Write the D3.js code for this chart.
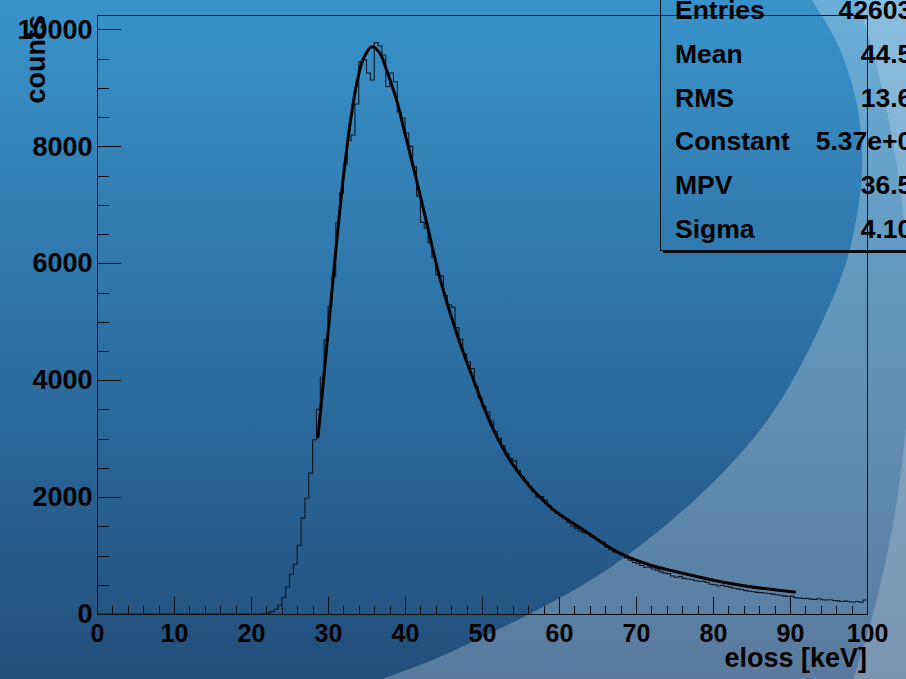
<!DOCTYPE html>
<html>
<head>
<meta charset="utf-8">
<script src="https://cdn.jsdelivr.net/npm/d3@7"></script>
<style>
  body { margin: 0; background: #2d6fa3; }
  svg { display: block; }
  text { font-family: "Liberation Sans", Arial, sans-serif; font-weight: bold; fill: #000; }
</style>
</head>
<body>
<div id="chart-area"></div>
<script>
// eloss histogram, 200 bins of 0.5 keV from 0 to 100
var binWidth = 0.5;
var counts = [
  0, 0, 0, 0, 0, 0, 0, 0, 0, 0,
  0, 0, 0, 0, 0, 0, 0, 0, 0, 0,
  0, 0, 0, 0, 0, 0, 0, 0, 0, 0,
  0, 0, 0, 0, 0, 0, 0, 0, 0, 0,
  0, 0, 0,
  5, 15, 40, 80, 150, 285, 460, 680, 850, 1175,
  1640, 1980, 2410, 2980, 3500, 4050, 4690, 5260, 5770, 6690,
  7200, 7700, 8100, 8195, 8725, 9450, 9480, 9256, 9136, 9775,
  9718, 9564, 9022, 9256, 9107, 8594, 8486, 8230, 8000, 7650,
  7150, 6700, 6600, 6350, 6100, 5800, 5780, 5450, 5290, 5250,
  4900, 4700, 4450, 4320, 4200, 3900, 3700, 3550, 3450, 3300,
  3120, 3000, 2880, 2740, 2660, 2620, 2450, 2350, 2260, 2180,
  2090, 2000, 2010, 1950, 1850, 1780, 1720, 1680, 1630, 1560,
  1500, 1470, 1420, 1390, 1380, 1330, 1290, 1250, 1230, 1140,
  1100, 1060, 1050, 1010, 960, 920, 880, 860, 830, 800,
  800, 770, 750, 720, 700, 690, 650, 630, 640, 610,
  600, 590, 570, 560, 560, 540, 510, 500, 480, 490,
  470, 460, 440, 430, 420, 400, 390, 380, 370, 365,
  360, 350, 340, 330, 320, 310, 300, 305, 280, 275,
  265, 270, 255, 250, 260, 245, 240, 245, 230, 225,
  215, 220, 210, 205, 215, 200, 240
];

// landau fit
var fitX = [28.7, 29.2, 29.8, 30.3, 30.8, 31.2, 31.6, 32.0, 32.9, 33.7, 34.6, 35.7,
            36.75, 37.6, 38.9, 40.2, 41.5, 42.8, 44.5, 46.7, 48.9, 51.5, 54.5,
            58.8, 63.2, 67.5, 71.8, 76.1, 80.5, 84.8, 90.6];
var fitY = [3030, 3700, 4530, 5230, 5930, 6470, 6990, 7480, 8420, 9050, 9500, 9706,
            9593, 9307, 8794, 8110, 7420, 6700, 5760, 4802, 4003, 3148, 2464,
            1836, 1437, 1066, 838, 696, 565, 468, 376];

var xTicks = [0, 10, 20, 30, 40, 50, 60, 70, 80, 90, 100];
var yTicks = [0, 2000, 4000, 6000, 8000, 10000];

var statNames = ["Entries", "Mean", "RMS", "Constant", "MPV", "Sigma"];
var statValues = ["426035", "44.52", "13.63", "5.37e+04", "36.51", "4.104"];

var W = 906, H = 679;
var frame = { left: 97, right: 867, top: 15, bottom: 614 };

var svg = d3.select("#chart-area")
  .append("svg")
  .attr("width", W)
  .attr("height", H);

// background: vertical gradient + two light swooshes
var defs = svg.append("defs");
var grad = defs.append("linearGradient")
  .attr("id", "bg")
  .attr("x1", 0).attr("y1", 0).attr("x2", 0).attr("y2", 1);
grad.append("stop").attr("offset", "0%").attr("stop-color", "#3893cb");
grad.append("stop").attr("offset", "100%").attr("stop-color", "#224e7b");

svg.append("rect")
  .attr("width", W).attr("height", H)
  .attr("fill", "url(#bg)");

var swoosh = [[330, 700], [383, 679], [453, 651], [621, 560], [760, 430], [832, 300],
              [852, 240], [862, 170], [857, 105], [838, 45], [812, 0], [795, -30]];
var swooshPath = d3.line().curve(d3.curveCatmullRom)(swoosh) + "L960,-30L960,720Z";
svg.append("path")
  .attr("d", swooshPath)
  .attr("fill", "#fff")
  .attr("fill-opacity", 0.25);

var c2 = { cx: -174, cy: 333, r: 1084 };
svg.append("path")
  .attr("d", "M0,0H" + W + "V" + H + "H0Z" +
    "M" + (c2.cx - c2.r) + "," + c2.cy +
    "a" + c2.r + "," + c2.r + " 0 1,0 " + (2 * c2.r) + ",0" +
    "a" + c2.r + "," + c2.r + " 0 1,0 " + (-2 * c2.r) + ",0Z")
  .attr("fill-rule", "evenodd")
  .attr("fill", "#fff")
  .attr("fill-opacity", 0.2);

var x = d3.scaleLinear()
  .domain([0, 100])
  .range([frame.left, frame.right]);

var y = d3.scaleLinear()
  .domain([0, 10248])
  .range([frame.bottom, frame.top]);

// frame
svg.append("rect")
  .attr("x", frame.left + 0.5)
  .attr("y", frame.top + 0.5)
  .attr("width", frame.right - frame.left)
  .attr("height", frame.bottom - frame.top)
  .attr("fill", "none")
  .attr("stroke", "#0b0f14")
  .attr("stroke-width", 1);

// y axis
var yMinor = d3.range(0, 10001, 500).filter(d => yTicks.indexOf(d) < 0);
svg.append("g")
  .attr("transform", `translate(${frame.left + 0.5}, 0)`)
  .call(d3.axisLeft(y).tickValues(yMinor).tickSize(-11.5).tickSizeOuter(0).tickFormat(""))
  .call(g => g.select(".domain").remove());

var yAxisGroup = svg.append("g")
  .attr("transform", `translate(${frame.left + 0.5}, 0)`)
  .call(d3.axisLeft(y).tickValues(yTicks).tickSize(-23).tickSizeOuter(0)
    .tickPadding(5).tickFormat(d3.format("d")))
  .call(g => g.select(".domain").remove())
  .attr("font-size", 27);

// x axis
var xMinor = d3.range(0, 101, 2).filter(d => d % 10 !== 0);
svg.append("g")
  .attr("transform", `translate(0, ${frame.bottom + 0.5})`)
  .call(d3.axisBottom(x).tickValues(xMinor).tickSize(-9).tickSizeOuter(0).tickFormat(""))
  .call(g => g.select(".domain").remove());

var xAxisGroup = svg.append("g")
  .attr("transform", `translate(0, ${frame.bottom + 0.5})`)
  .call(d3.axisBottom(x).tickValues(xTicks).tickSize(-18).tickSizeOuter(0)
    .tickPadding(10).tickFormat(d3.format("d")))
  .call(g => g.select(".domain").remove())
  .attr("font-size", 25);

svg.selectAll(".tick line")
  .attr("stroke", "#0b0f14")
  .attr("shape-rendering", "crispEdges");

// axis titles
svg.append("text")
  .attr("x", frame.right)
  .attr("y", 667)
  .attr("font-size", "27px")
  .attr("text-anchor", "end")
  .text("eloss [keV]");

svg.append("text")
  .attr("transform", `translate(45, ${frame.top}) rotate(-90)`)
  .attr("font-size", "27px")
  .attr("text-anchor", "end")
  .text("counts");

// histogram outline
var histPts = [[0, 0]];
counts.forEach((c, i) => histPts.push([i * binWidth, c]));
histPts.push([counts.length * binWidth, counts[counts.length - 1]]);

var histLine = d3.line()
  .x(d => x(d[0]))
  .y(d => y(d[1]))
  .curve(d3.curveStepAfter);

svg.append("path")
  .datum(histPts)
  .attr("d", histLine)
  .attr("fill", "none")
  .attr("stroke", "#0d1620")
  .attr("stroke-width", 1.1);

// fit curve
var fitLine = d3.line()
  .x((d, i) => x(fitX[i]))
  .y(d => y(d))
  .curve(d3.curveCatmullRom);

svg.append("path")
  .datum(fitY)
  .attr("d", fitLine)
  .attr("fill", "none")
  .attr("stroke", "#000")
  .attr("stroke-width", 3)
  .attr("stroke-linejoin", "round")
  .attr("stroke-linecap", "round");

// stats box
var box = { left: 660, bottom: 250 };
svg.append("rect")
  .attr("x", box.left + 3)
  .attr("y", box.bottom + 1)
  .attr("width", 400)
  .attr("height", 2)
  .attr("fill", "#0b0f14");

svg.append("rect")
  .attr("x", box.left + 0.5)
  .attr("y", -40)
  .attr("width", 400)
  .attr("height", box.bottom + 40.5)
  .attr("fill", "none")
  .attr("stroke", "#0b0f14")
  .attr("stroke-width", 1);

var rows = svg.append("g").attr("font-size", "26.5px");
statNames.forEach((name, i) => {
  var base = 19 + i * 43.8;
  rows.append("text")
    .attr("x", box.left + 15)
    .attr("y", base)
    .text(name);
  rows.append("text")
    .attr("x", 927)
    .attr("y", base)
    .attr("text-anchor", "end")
    .text(statValues[i]);
});
</script>
</body>
</html>
